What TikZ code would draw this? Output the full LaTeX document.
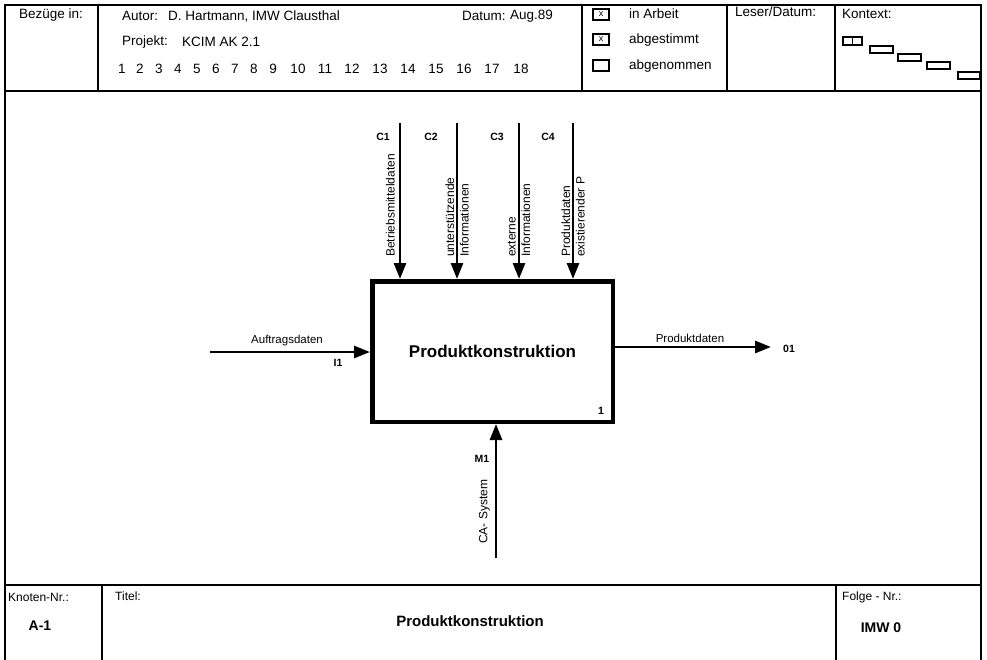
\documentclass[tikz,border=0pt]{standalone}
\usepackage{fontspec}
\setmainfont{Liberation Sans}
\usetikzlibrary{arrows.meta}

\tikzset{
  frame/.style={line width=1.8pt},
  flow/.style={line width=2.8pt,-{Triangle[length=16pt,width=12pt]}},
  hdr/.style={anchor=west,inner sep=0pt,font=\fontsize{13.5}{15}\selectfont},
  lbl/.style={inner sep=1pt,font=\fontsize{11.5}{14}\selectfont},
  vlbl/.style={lbl,rotate=90,align=left,font=\fontsize{12}{14.5}\selectfont},
  tag/.style={inner sep=0pt,font=\bfseries\fontsize{10.5}{12}\selectfont},
  chk/.style={line width=2.2pt},
  ctx/.style={line width=1.6pt}
}

\begin{document}
\begin{tikzpicture}[x=1pt,y=-1pt]
  \useasboundingbox (0,0) rectangle (987,659);
  %\draw[very thin,gray,step=50] (0,0) grid (987,659);

  % Formblatt: Rahmen, Kopfzeile, Fusszeile
  \draw[frame] (5,5) rectangle (981,668);
  \draw[frame] (5,91) -- (981,91);
  \draw[frame] (5,585) -- (981,585);
  \foreach \x in {98,582,727,835}
    \draw[frame] (\x,5) -- (\x,91);
  \draw[frame] (102,585) -- (102,668);
  \draw[frame] (836,585) -- (836,668);

  % Kopfzeile
  \node[hdr] (bezug) at (19,15) {Bezüge in:};
  \node[hdr] (autor) at (122,16) {Autor:};
  \node[hdr] (name) at (168,16) {D. Hartmann, IMW Clausthal};
  \node[hdr] (datum) at (462,16) {Datum:};
  \node[hdr] (datwert) at (510,16) {Aug.89};
  \node[hdr] (projekt) at (122,42) {Projekt:};
  \node[hdr] (projwert) at (182,42) {KCIM AK 2.1};
  \foreach \n/\x in {1/122,2/140,3/159,4/178,5/197,6/216,7/235,8/254,9/273,
      10/298,11/325,12/352,13/380,14/408,15/436,16/464,17/492,18/521}
    \node[hdr,anchor=center] (nr\n) at (\x,69) {\n};

  % Status
  \draw[chk] (593,9) rectangle (609,20);
  \node[inner sep=0pt,font=\fontsize{9}{9}\selectfont] (x1) at (601,14.5) {x};
  \draw[chk] (593,34) rectangle (609,45);
  \node[inner sep=0pt,font=\fontsize{9}{9}\selectfont] (x2) at (601,39.5) {x};
  \draw[chk] (593,60) rectangle (609,71);
  \node[hdr] (arbeit) at (629,14) {in Arbeit};
  \node[hdr] (abgest) at (629,40) {abgestimmt};
  \node[hdr] (abgen) at (629,66) {abgenommen};
  \node[hdr] (leser) at (735,12) {Leser/Datum:};
  \node[hdr] (kontext) at (842,14) {Kontext:};

  % Kontext-Kaestchen
  \draw[ctx] (843,37) rectangle (862,45);
  \draw[ctx] (852.5,37) -- (852.5,45);
  \draw[ctx] (870,46) rectangle (893,53);
  \draw[ctx] (898,54) rectangle (921,61);
  \draw[ctx] (927,62) rectangle (950,69);
  \draw[ctx] (958,72) rectangle (980,79);

  % Aktivitaet
  \node[draw,line width=4.5pt,minimum width=240.5pt,minimum height=140.5pt,
    font=\bfseries\fontsize{17}{20}\selectfont] (prodbox) at (492.5,351.5)
    {Produktkonstruktion};
  \node[tag] (boxnr) at (601,411) {1};

  % Steuerungen C1..C4
  \foreach \i/\x in {1/400,2/457,3/519,4/573} {
    \coordinate (c\i) at (\x,123);
    \draw[flow] (c\i) -- (c\i |- prodbox.north);
  }
  \node[tag] (c1lbl) at (383,137) {C1};
  \node[tag] (c2lbl) at (431,137) {C2};
  \node[tag] (c3lbl) at (497,137) {C3};
  \node[tag] (c4lbl) at (548,137) {C4};
  \node[vlbl,anchor=south west] (betrieb) at (396,258) {Betriebsmitteldaten};
  \node[vlbl,anchor=west] (unterst) at (457,258) {unterstützende\\Informationen};
  \node[vlbl,anchor=west] (extern) at (519,258) {externe\\Informationen};
  \node[vlbl,anchor=west] (produkt) at (573,258) {Produktdaten\\existierender P};

  % Eingabe I1, Ausgabe 01
  \coordinate (in1) at (210,352);
  \draw[flow] (in1) -- (in1 -| prodbox.west);
  \node[lbl] (auftrag) at (287,341) {Auftragsdaten};
  \node[tag] (i1lbl) at (338,363) {I1};
  \coordinate (out1) at (771,347);
  \draw[flow] (prodbox.east |- out1) -- (out1);
  \node[lbl] (proddat) at (690,338) {Produktdaten};
  \node[tag] (o1lbl) at (789,349) {01};

  % Mechanismus M1
  \coordinate (m1) at (496,558);
  \draw[flow] (m1) -- (m1 |- prodbox.south);
  \node[tag] (m1lbl) at (482,459) {M1};
  \node[vlbl,anchor=south west] (casys) at (491,545) {CA- System};

  % Fusszeile
  \node[hdr,font=\fontsize{12}{14}\selectfont] (knoten) at (8,597) {Knoten-Nr.:};
  \node[inner sep=0pt,font=\bfseries\fontsize{14}{16}\selectfont] (knr) at (40,626) {A-1};
  \node[hdr,font=\fontsize{12}{14}\selectfont] (titel) at (115,596) {Titel:};
  \node[inner sep=0pt,font=\bfseries\fontsize{15}{18}\selectfont] (titelw) at (470,621) {Produktkonstruktion};
  \node[hdr,font=\fontsize{12}{14}\selectfont] (folge) at (842,597) {Folge - Nr.:};
  \node[inner sep=0pt,font=\bfseries\fontsize{14}{16}\selectfont] (fnr) at (881,628) {IMW 0};
\end{tikzpicture}
\end{document}
